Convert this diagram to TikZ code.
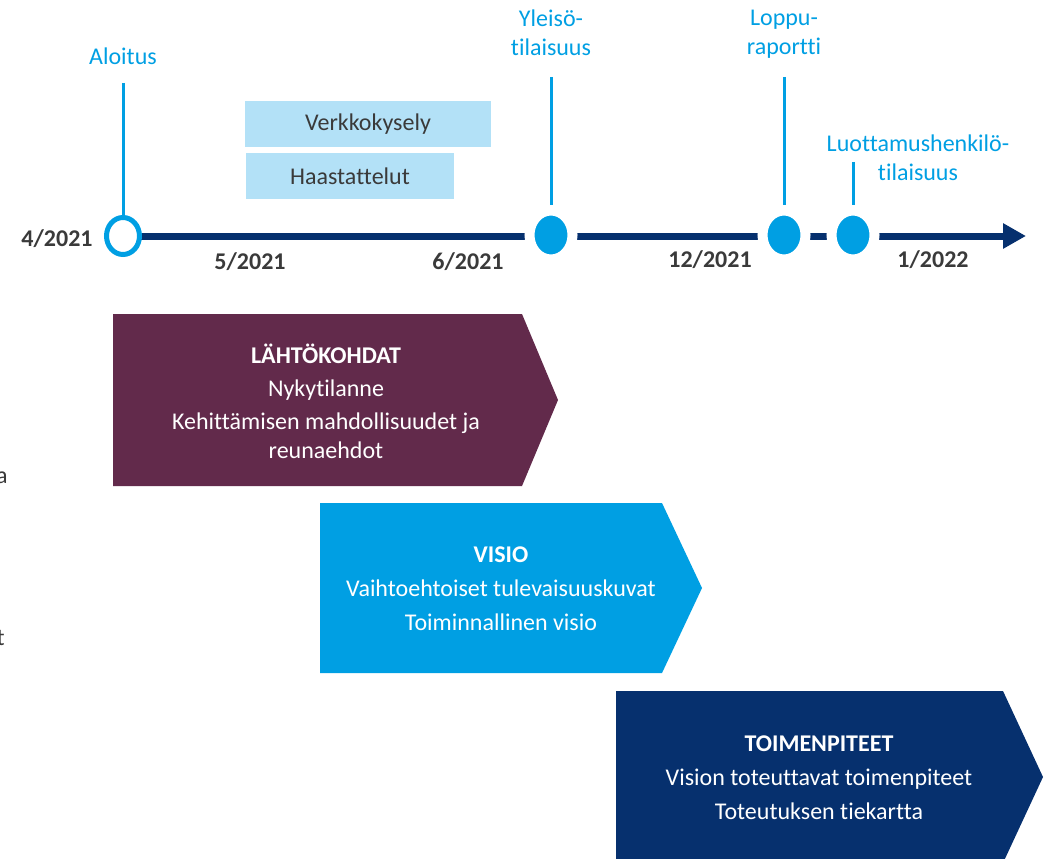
\documentclass[tikz,border=0pt]{standalone}
\usepackage{fontspec}
\setmainfont{Carlito}[Ligatures=NoCommon]
\usetikzlibrary{arrows.meta,shapes.geometric}

\definecolor{tlnavy}{HTML}{06306E}
\definecolor{tlblue}{HTML}{009FE3}
\definecolor{tlplum}{HTML}{622A4B}
\definecolor{tlpale}{HTML}{B3E1F7}
\definecolor{tlgray}{HTML}{3A3A3A}

\begin{document}
\begin{tikzpicture}[x=0.75pt,y=-0.75pt,
  every node/.style={font=\fontsize{18}{21.5}\selectfont, inner sep=0pt},
  evlbl/.style={text=tlblue, align=center},
  datelbl/.style={text=tlgray, font=\fontsize{18}{21.5}\selectfont\bfseries},
  stem/.style={draw=tlblue, line width=2.25pt},
  msopen/.style={ellipse, fill=white, draw=tlblue, line width=3.75pt, minimum width=24.75pt, minimum height=27.75pt},
  msfull/.style={ellipse, fill=tlblue, draw=white, line width=7.5pt, minimum width=32.25pt, minimum height=36.75pt},
  taskbox/.style={fill=tlpale, text=tlgray, minimum height=34.5pt},
  phasetxt/.style={text=white, align=center}]
\useasboundingbox (0,0) rectangle (1048,859);

% timeline
\coordinate (start) at (123,236);
\coordinate (tip) at (1026,236);
\draw[tlnavy, line width=5.25pt, -{Triangle[length=17.25pt, width=18pt]}] (start) -- (tip);

% milestones
\node[msopen] (aloitus) at (123,236) {};
\node[msfull] (yleiso) at (551,235) {};
\node[msfull] (loppu) at (784,235) {};
\node[msfull] (luott) at (853,235) {};

\coordinate (s1) at (123,83);
\coordinate (s2) at (551,77);
\coordinate (s3) at (784,77);
\coordinate (s4) at (853,162);
\draw[stem] (s1) -- (aloitus);
\draw[stem] (s2) -- (yleiso);
\draw[stem] (s3) -- (loppu);
\draw[stem] (s4) -- (luott);

\node[evlbl] (l1) at (123,56) {Aloitus};
\node[evlbl] (l2) at (551,33) {Yleisö-\\tilaisuus};
\node[evlbl] (l3) at (784,34) {Loppu-\\raportti};
\node[evlbl] (l4) at (918,158) {Luottamushenkilö-\\tilaisuus};

% dates
\node[datelbl] (d1) at (57,239) {4/2021};
\node[datelbl] (d2) at (250,262) {5/2021};
\node[datelbl] (d3) at (468,262) {6/2021};
\node[datelbl] (d4) at (710,260) {12/2021};
\node[datelbl] (d5) at (933,260) {1/2022};

% tasks
\node[taskbox, minimum width=184.5pt] (verkko) at (368,124) {Verkkokysely};
\node[taskbox, minimum width=156pt] (haast) at (350,176) {Haastattelut};

% phases
\fill[tlplum] (113,314) -- (522,314) -- (558,400) -- (522,486) -- (113,486) -- cycle;
\fill[tlblue] (320,503) -- (662,503) -- (702,588) -- (662,673) -- (320,673) -- cycle;
\fill[tlnavy] (616,691) -- (1003,691) -- (1043,777) -- (1003,863) -- (616,863) -- cycle;

\node[phasetxt] (lahto) at (326,401) {\textbf{LÄHTÖKOHDAT}\\[3.5pt]Nykytilanne\\[3.5pt]Kehittämisen mahdollisuudet ja\\reunaehdot};
\node[phasetxt] (visio) at (501,589) {\textbf{VISIO}\\[4pt]Vaihtoehtoiset tulevaisuuskuvat\\[4pt]Toiminnallinen visio};
\node[phasetxt] (toimen) at (819,778) {\textbf{TOIMENPITEET}\\[4pt]Vision toteuttavat toimenpiteet\\[4pt]Toteutuksen tiekartta};

% cut-off text at left edge
\node[text=tlgray, anchor=base east] (fa) at (8,483) {a};
\node[text=tlgray, anchor=base east] (ft) at (5,645) {t};
\end{tikzpicture}
\end{document}
